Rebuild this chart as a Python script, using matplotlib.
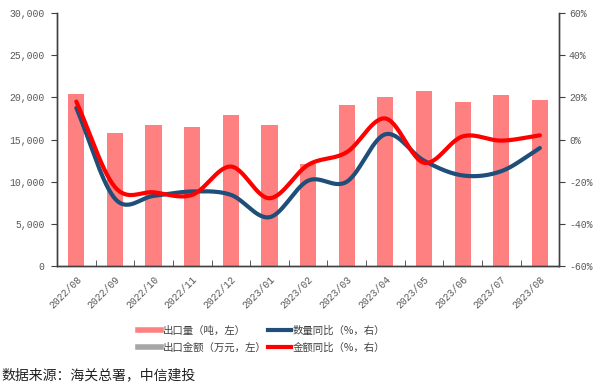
import numpy as np
import matplotlib
matplotlib.use("Agg")
import matplotlib.pyplot as plt
from matplotlib.lines import Line2D

plt.rcParams['font.family'] = ['Noto Sans CJK SC', 'DejaVu Sans']

months = ["2022/08", "2022/09", "2022/10", "2022/11", "2022/12", "2023/01", "2023/02",
          "2023/03", "2023/04", "2023/05", "2023/06", "2023/07", "2023/08"]
export_volume = [20400, 15800, 16700, 16500, 17900, 16700, 12100,
                 19100, 20100, 20800, 19450, 20250, 19700]
volume_yoy = [15, -28, -26.7, -24.6, -26.2, -36.8, -19.5, -20, 2.5, -10, -17, -15, -4]
value_yoy = [18, -22.5, -25, -26.2, -12.8, -27.8, -12, -6, 10, -11, 1.5, -0.5, 2]

left_ticks = [0, 5000, 10000, 15000, 20000, 25000, 30000]
right_ticks = [-60, -40, -20, 0, 20, 40, 60]

BAR_C = "#FF8080"
NAVY = "#1F4E79"
RED = "#FF0000"
GREY_T = "#595959"
SPINE = "#404040"
TICK_FONT = "Liberation Mono"


def catmull_rom(y, n=30):
    y = np.asarray(y, float)
    x = np.arange(len(y), dtype=float)
    P = np.concatenate([[2 * y[0] - y[1]], y, [2 * y[-1] - y[-2]]])
    xs, ys = [], []
    t = np.linspace(0, 1, n, endpoint=False)
    for i in range(len(y) - 1):
        p0, p1, p2, p3 = P[i], P[i + 1], P[i + 2], P[i + 3]
        yy = 0.5 * ((2 * p1) + (-p0 + p2) * t + (2 * p0 - 5 * p1 + 4 * p2 - p3) * t ** 2
                    + (-p0 + 3 * p1 - 3 * p2 + p3) * t ** 3)
        xs.append(x[i] + t)
        ys.append(yy)
    xs.append([x[-1]])
    ys.append([y[-1]])
    return np.concatenate(xs), np.concatenate(ys)


fig = plt.figure(figsize=(6.0, 3.92), dpi=100)
ax = fig.add_axes([0.095, 0.321, 0.837, 0.646])
ax2 = ax.twinx()

x = np.arange(len(months))
ax.bar(x, export_volume, width=0.42, color=BAR_C, zorder=2)
ax.set_xlim(-0.5, len(months) - 0.5)
ax.set_ylim(0, 30000)
ax.set_yticks(left_ticks)
ax.set_yticklabels([f"{v:,}" for v in left_ticks], family=TICK_FONT)

xs, ys = catmull_rom(volume_yoy)
ax2.plot(xs, ys, color=NAVY, lw=3.0, solid_capstyle='round', zorder=3)
xs, ys = catmull_rom(value_yoy)
ax2.plot(xs, ys, color=RED, lw=3.0, solid_capstyle='round', zorder=4)
ax2.set_ylim(-60, 60)
ax2.set_yticks(right_ticks)
ax2.set_yticklabels([f"{v}%" for v in right_ticks], family=TICK_FONT)

ax.set_xticks(x)
ax.set_xticklabels(months, rotation=45, ha='right', rotation_mode='anchor', family=TICK_FONT)
ax.set_xticks(np.arange(len(months) + 1) - 0.5, minor=True)
ax.tick_params(axis='x', which='major', length=0, pad=6, labelsize=7, labelcolor=GREY_T)
ax.tick_params(axis='x', which='minor', length=4, direction='in', color=SPINE)
ax.tick_params(axis='y', length=4, color=SPINE, labelsize=7, labelcolor=GREY_T, pad=5)
ax2.tick_params(axis='y', length=4, color=SPINE, labelsize=7, labelcolor=GREY_T, pad=3)

for a in (ax, ax2):
    a.spines['top'].set_visible(False)
    for s in ('left', 'right', 'bottom'):
        a.spines[s].set_color(SPINE)
        a.spines[s].set_linewidth(1.0)

handles = [Line2D([], [], color=BAR_C, lw=4),
           Line2D([], [], color="#A6A6A6", lw=4),
           Line2D([], [], color=NAVY, lw=3),
           Line2D([], [], color=RED, lw=3)]
labels = ["出口量（吨，左）", "出口金额（万元，左）", "数量同比（%，右）", "金额同比（%，右）"]
leg = fig.legend(handles, labels, ncol=2, loc='center', bbox_to_anchor=(0.436, 0.135),
                 frameon=False, fontsize=7.5, handlelength=2.2, handletextpad=0.2,
                 columnspacing=0.1, labelspacing=0.6)
for t in leg.get_texts():
    t.set_color("#404040")

fig.text(0.003, 0.025, "数据来源：海关总署，中信建投", fontsize=10, color="#222222",
         ha='left', va='bottom')

fig.savefig("out.png", dpi=100, facecolor='white')
